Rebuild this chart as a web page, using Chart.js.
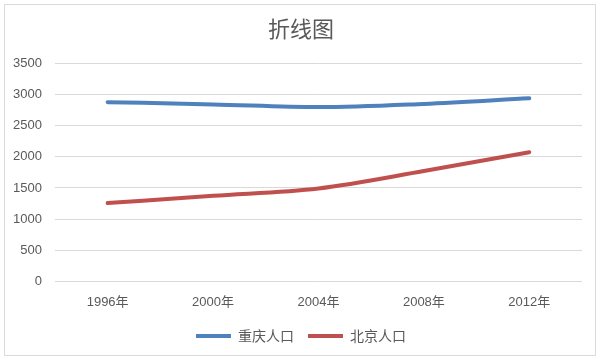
<!DOCTYPE html>
<html><head><meta charset="utf-8">
<script src="https://cdn.jsdelivr.net/npm/chart.js@4/dist/chart.umd.min.js"></script>
<style>
html,body{margin:0;padding:0;background:#fff;}
#wrap{position:absolute;left:0;top:0;width:602px;height:362px;}
#frame{position:absolute;left:4px;top:4px;width:592px;height:352px;border:1px solid #D9D9D9;box-sizing:border-box;}
canvas{position:absolute;left:0;top:0;}
</style></head>
<body><div id="wrap"><div id="frame"></div><canvas id="c" width="602" height="362"></canvas></div>
<script>
const categories = ["1996年","2000年","2004年","2008年","2012年"];
const chongqing = [2878, 2842, 2798, 2850, 2940];
const beijing = [1257, 1375, 1492, 1771, 2074];
const seriesNames = ["重庆人口","北京人口"];
const yTicks = {min:0, max:3500, step:500};

const centerShift = {
  id:'centerShift',
  afterLayout(chart){
    [chart.titleBlock, chart.legend].forEach(b=>{ if(b){ b.left += 10; b.right += 10; } });
  }
};

new Chart(document.getElementById('c'), {
  type:'line',
  data:{labels:categories, datasets:[
    {label:seriesNames[0], data:chongqing, borderColor:'#4F81BD', backgroundColor:'#4F81BD', borderWidth:4, pointRadius:0, tension:0.4, cubicInterpolationMode:'monotone', borderCapStyle:'round'},
    {label:seriesNames[1], data:beijing, borderColor:'#C0504D', backgroundColor:'#C0504D', borderWidth:4, pointRadius:0, tension:0.4, cubicInterpolationMode:'monotone', borderCapStyle:'round'}
  ]},
  options:{
    responsive:false, animation:false, devicePixelRatio:1,
    layout:{padding:{left:0,right:20,top:9,bottom:9}},
    plugins:{
      title:{display:true, text:'折线图', color:'#595959', font:{family:'"Noto Sans CJK SC"', size:22, weight:'normal'}, padding:{top:6,bottom:22}},
      legend:{position:'bottom', labels:{usePointStyle:true, pointStyle:'line', pointStyleWidth:35, color:'#595959', font:{family:'"Noto Sans CJK SC"', size:14}, padding:14}},
      tooltip:{enabled:false}
    },
    scales:{
      x:{offset:true, grid:{display:false}, border:{display:false}, ticks:{color:'#595959', font:{family:'"Liberation Sans","Noto Sans CJK SC"', size:13}, padding:5}},
      y:{min:yTicks.min, max:yTicks.max, ticks:{stepSize:yTicks.step, color:'#595959', font:{family:'"Liberation Sans"', size:13}, padding:13, callback:v=>String(v)}, grid:{color:'#D9D9D9', drawTicks:false}, border:{display:false}}
    }
  },
  plugins:[centerShift]
});
</script></body></html>
